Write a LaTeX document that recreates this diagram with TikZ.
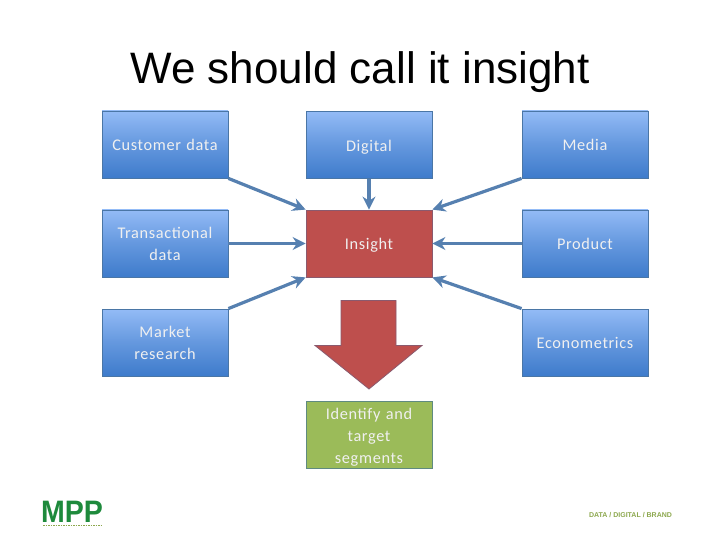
\documentclass[tikz,border=0pt]{standalone}
\usepackage{fontspec}
\setmainfont{Carlito}[LetterSpace=4]
\newfontfamily\titlefont{Liberation Sans}
\newfontfamily\logofont{Liberation Sans}
\usetikzlibrary{arrows.meta}
\definecolor{blueTop}{HTML}{93BBF6}
\definecolor{blueBot}{HTML}{3E7BCB}
\definecolor{boxEdge}{HTML}{4A76A6}
\definecolor{redFill}{HTML}{BE4F4D}
\definecolor{redEdge}{HTML}{8A5A6E}
\definecolor{greenFill}{HTML}{9BBB59}
\definecolor{greenEdge}{HTML}{5F8A80}
\definecolor{arrowCol}{HTML}{5680B0}
\definecolor{logoGreen}{HTML}{1E8A3C}
\definecolor{tagGreen}{HTML}{8DA84E}
\tikzset{x=1pt,y=-1pt,
  boxbase/.style={minimum width=126pt,minimum height=67pt,inner sep=2pt,align=center,text width=122pt,font=\fontsize{16.3}{22}\selectfont,text=white!94!black,draw,line width=0.8pt,execute at begin node={\rule{0pt}{12.5pt}}},
  bluebox/.style={boxbase,draw=boxEdge,top color=blueTop,bottom color=blueBot,middle color=blueTop!45!blueBot},
  redbox/.style={boxbase,draw=redEdge,fill=redFill},
  greenbox/.style={boxbase,draw=greenEdge,fill=greenFill},
  link/.style={draw=arrowCol,line width=3.2pt,-{Stealth[length=13pt,width=13pt]}}
}
\begin{document}
\begin{tikzpicture}
\useasboundingbox (0,0) rectangle (720,540);
\fill[white] (0,0) rectangle (720,540);
\node[font=\titlefont\fontsize{44}{44}\selectfont,text=black,inner sep=0pt] (title) at (360,72) {We should call it insight};
\node[bluebox] (cust) at (165,144.5) {Customer data};
\node[bluebox] (digi) at (369,145) {\rule{0pt}{16pt}Digital};
\node[bluebox] (media) at (585,144.5) {Media};
\node[bluebox] (trans) at (165,243.5) {Transactional\\data};
\node[redbox] (ins) at (369,243.5) {\rule{0pt}{14pt}Insight};
\node[bluebox] (prod) at (585,243.5) {Product};
\node[bluebox] (mkt) at (165,342.5) {Market\\research};
\node[bluebox] (econ) at (585,342.5) {Econometrics};
\node[greenbox] (seg) at (369,435) {\rule{0pt}{16pt}Identify and\\target\\segments};
\draw[link] (cust.south east) -- (ins.north west);
\draw[link] (digi.south) -- (ins.north);
\draw[link] (media.south west) -- (ins.north east);
\draw[link] (trans.east) -- (ins.west);
\draw[link] (prod.west) -- (ins.east);
\draw[link] (mkt.north east) -- (ins.south west);
\draw[link] (econ.north west) -- (ins.south east);
\draw[draw=redEdge,fill=redFill,line width=0.8pt,line join=miter] (341,300.5) -- (396,300.5) -- (396,345.5) -- (422,345.5) -- (369,389) -- (315,345.5) -- (341,345.5) -- cycle;
\node[font=\logofont\bfseries\fontsize{31}{31}\selectfont,text=logoGreen,inner sep=0pt,xscale=0.92] (logo) at (72,512) {MPP};
\draw[tagGreen,line width=1.4pt,dash pattern=on 1.5pt off 1pt] (43,525.5) -- (102,525.5);
\node[font=\logofont\bfseries\fontsize{7}{7}\selectfont,text=tagGreen,inner sep=0pt] (tag) at (630.5,515) {DATA / DIGITAL / BRAND};
\end{tikzpicture}
\end{document}
